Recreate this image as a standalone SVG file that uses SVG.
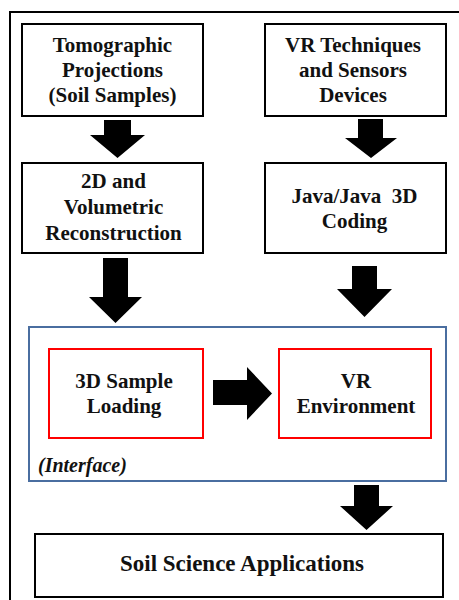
<svg xmlns="http://www.w3.org/2000/svg" width="459" height="600" viewBox="0 0 459 600">
  <style>
    .box { fill: #ffffff; stroke: #000000; stroke-width: 2; }
    .red { fill: #ffffff; stroke: #ff0000; stroke-width: 2; }
    .iface { fill: #ffffff; stroke: #4a6ea0; stroke-width: 2; }
    .arrow { fill: #000000; }
  </style>

  <rect width="459" height="600" fill="#ffffff"/>
  <!-- outer frame, running past the right and bottom edges -->
  <rect x="10" y="12" width="470" height="610" fill="none" stroke="#000000" stroke-width="2"/>

  <g font-weight="bold" font-size="21" fill="#111111" text-anchor="middle">
    <g id="interface">
      <rect class="iface" x="29" y="327" width="417" height="154"/>
      <text font-family="Liberation Serif" x="38" y="472" font-style="italic" font-size="20" text-anchor="start">(Interface)</text>
    </g>

    <g id="tomographic">
      <rect class="box" x="22" y="24" width="181" height="92"/>
      <text font-family="Liberation Serif" x="112.5" y="52">Tomographic</text>
      <text font-family="Liberation Serif" x="112.5" y="77">Projections</text>
      <text font-family="Liberation Serif" x="112.5" y="102">(Soil Samples)</text>
    </g>

    <g id="vr-techniques">
      <rect class="box" x="265" y="24" width="181" height="92"/>
      <text font-family="Liberation Serif" x="353" y="52">VR Techniques</text>
      <text font-family="Liberation Serif" x="353" y="77">and Sensors</text>
      <text font-family="Liberation Serif" x="353" y="102">Devices</text>
    </g>

    <g id="reconstruction">
      <rect class="box" x="22" y="163" width="181" height="90"/>
      <text font-family="Liberation Serif" x="113.5" y="188">2D and</text>
      <text font-family="Liberation Serif" x="113.5" y="214">Volumetric</text>
      <text font-family="Liberation Serif" x="113.5" y="240">Reconstruction</text>
    </g>

    <g id="java-coding">
      <rect class="box" x="265" y="163" width="181" height="90"/>
      <text font-family="Liberation Serif" x="354.5" y="203" xml:space="preserve">Java/Java  3D</text>
      <text font-family="Liberation Serif" x="354.5" y="228">Coding</text>
    </g>

    <g id="sample-loading">
      <rect class="red" x="49" y="349" width="154" height="89"/>
      <text font-family="Liberation Serif" x="124" y="388">3D Sample</text>
      <text font-family="Liberation Serif" x="124" y="413">Loading</text>
    </g>

    <g id="vr-environment">
      <rect class="red" x="279" y="349" width="152" height="89"/>
      <text font-family="Liberation Serif" x="356" y="388">VR</text>
      <text font-family="Liberation Serif" x="356" y="413">Environment</text>
    </g>

    <g id="applications">
      <rect class="box" x="35" y="534" width="408" height="63"/>
      <text font-family="Liberation Serif" x="242" y="571" font-size="23">Soil Science Applications</text>
    </g>
  </g>

  <g id="connectors">
    <polygon class="arrow" points="104,120 131,120 131,135 145,135 117.5,158 90,135 104,135"/>
    <polygon class="arrow" points="358,119 383,119 383,138 397,138 371,158 345,138 358,138"/>
    <polygon class="arrow" points="103,258 128,258 128,297 142,297 115.5,323 89,297 103,297"/>
    <polygon class="arrow" points="352,266 377,266 377,289 392,289 364.5,317 337,289 352,289"/>
    <polygon class="arrow" points="213,380 247,380 247,367 272,393.5 247,420 247,405 213,405"/>
    <polygon class="arrow" points="354,485 379,485 379,506 393,506 366.5,530 340,506 354,506"/>
  </g>
</svg>
